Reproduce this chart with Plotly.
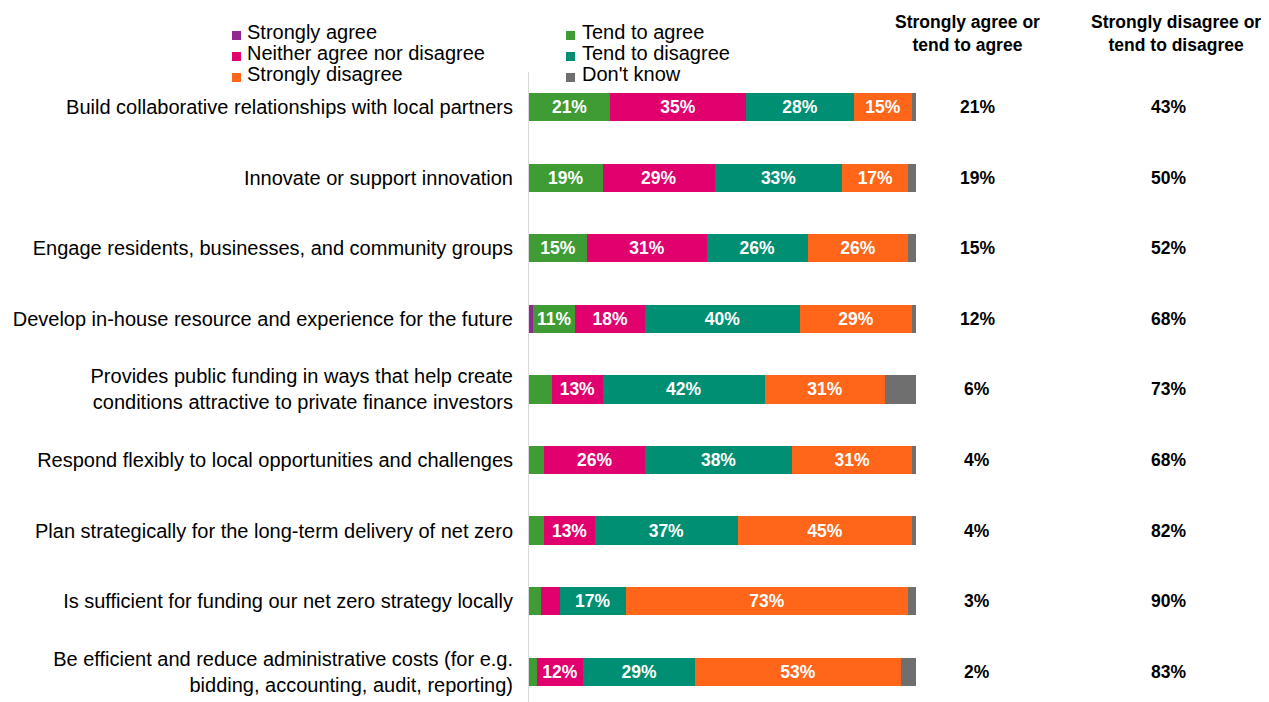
import plotly.graph_objects as go

categories = [
    "Build collaborative relationships with local partners",
    "Innovate or support innovation",
    "Engage residents, businesses, and community groups",
    "Develop in-house resource and experience for the future",
    "Provides public funding in ways that help create<br>conditions attractive to private finance investors",
    "Respond flexibly to local opportunities and challenges",
    "Plan strategically for the long-term delivery of net zero",
    "Is sufficient for funding our net zero strategy locally",
    "Be efficient and reduce administrative costs (for e.g.<br>bidding, accounting, audit, reporting)",
]

strongly_agree = [0, 0, 0, 1, 0, 0, 0, 0, 0]
tend_to_agree = [21, 19, 15, 11, 6, 4, 4, 3, 2]
neither = [35, 29, 31, 18, 13, 26, 13, 5, 12]
tend_to_disagree = [28, 33, 26, 40, 42, 38, 37, 17, 29]
strongly_disagree = [15, 17, 26, 29, 31, 31, 45, 73, 53]
dont_know = [1, 2, 2, 1, 8, 1, 1, 2, 4]

net_agree = ["21%", "19%", "15%", "12%", "6%", "4%", "4%", "3%", "2%"]
net_disagree = ["43%", "50%", "52%", "68%", "73%", "68%", "82%", "90%", "83%"]

col_headers = ["Strongly agree or<br>tend to agree", "Strongly disagree or<br>tend to disagree"]

series_names = ["Strongly agree", "Tend to agree", "Neither agree nor disagree",
                "Tend to disagree", "Strongly disagree", "Don't know"]
series_values = [strongly_agree, tend_to_agree, neither, tend_to_disagree, strongly_disagree, dont_know]
series_colors = ["#92278F", "#3F9C35", "#E0006E", "#008F72", "#FF661A", "#6F6F6F"]

FONT = "Arial, Liberation Sans, sans-serif"
OFF = 8                      # page body margin in the browser
W, H = 1269 - OFF, 702 - OFF  # figure size
L, R, T, B = 529, 916, 72, 702  # plot area in screen pixels


def px_x(px):
    return (px - L) / (R - L)


def px_y(py):
    return (B - py) / (B - T)


fig = go.Figure()
for name, vals, color in zip(series_names, series_values, series_colors):
    fig.add_trace(go.Bar(
        y=categories, x=vals, name=name, orientation="h",
        marker=dict(color=color, line=dict(width=0)),
        text=[f"{v}%" if v >= 10 else "" for v in vals],
        textposition="inside", insidetextanchor="middle", textangle=0,
        textfont=dict(color="white", size=17.5, family=FONT, weight="bold"),
        showlegend=False,
    ))

# right-hand summary columns
for i, (a, d) in enumerate(zip(net_agree, net_disagree)):
    fig.add_annotation(x=px_x(977), y=categories[i], xref="paper", yref="y",
                       xanchor="center", yanchor="middle",
                       text=a, showarrow=False,
                       font=dict(size=17.5, family=FONT, color="black", weight="bold"))
    fig.add_annotation(x=px_x(1168), y=categories[i], xref="paper", yref="y",
                       xanchor="center", yanchor="middle",
                       text=d, showarrow=False,
                       font=dict(size=17.5, family=FONT, color="black", weight="bold"))
for hx, htxt in zip([967, 1176], col_headers):
    fig.add_annotation(x=px_x(hx), y=px_y(33), xref="paper", yref="paper",
                       xanchor="center", yanchor="middle", text=htxt, showarrow=False,
                       font=dict(size=17.5, family=FONT, color="black", weight="bold"))

# legend: two columns, three rows (drawn with shapes + text)
leg_cols = [(232, 245), (566, 580)]
leg_rows = [32, 53, 74]
for k, (name, color) in enumerate(zip(series_names, series_colors)):
    col = k % 2
    row = k // 2
    sx, tx = leg_cols[col]
    cy = leg_rows[row]
    fig.add_shape(type="rect", xref="paper", yref="paper",
                  x0=px_x(sx), x1=px_x(sx + 9), y0=px_y(cy + 8), y1=px_y(cy - 1),
                  fillcolor=color, line=dict(width=0))
    fig.add_annotation(x=px_x(tx), y=px_y(cy), xref="paper", yref="paper",
                       xanchor="left", yanchor="middle", text=name, showarrow=False,
                       font=dict(size=20, family=FONT, color="black"))

fig.update_layout(
    width=W, height=H,
    barmode="stack", bargap=0.6,
    plot_bgcolor="white", paper_bgcolor="white",
    margin=dict(l=L - OFF, r=W - (R - OFF), t=T - OFF, b=H - (B - OFF), autoexpand=False),
    font=dict(family=FONT, size=20, color="black"),
    xaxis=dict(range=[0, 100], visible=False),
    yaxis=dict(range=[8.43, -0.5], showline=True, linecolor="#D9D9D9", linewidth=1,
               ticks="", showgrid=False, ticklabelstandoff=11,
               tickfont=dict(size=20, color="black", family=FONT)),
    showlegend=False,
)

fig.write_html("out.html")
